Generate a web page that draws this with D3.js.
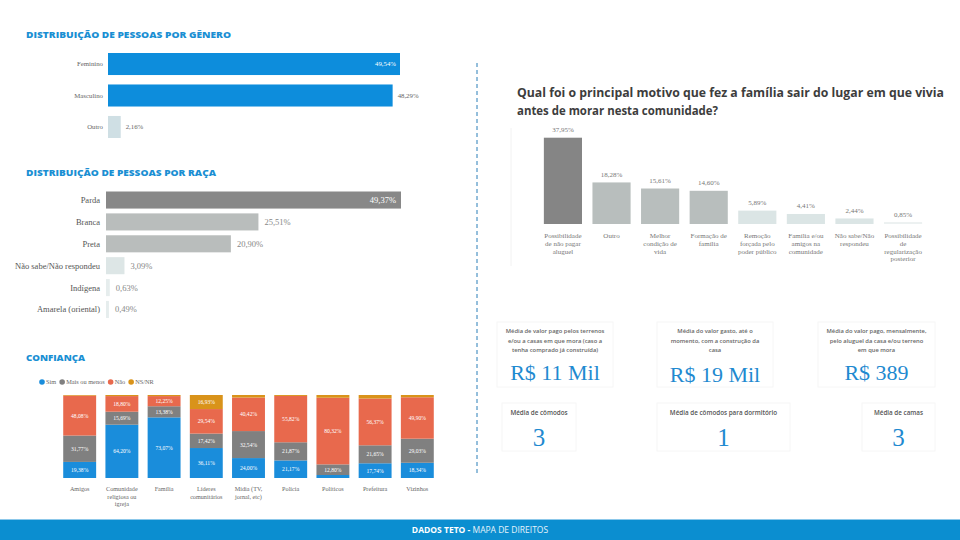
<!DOCTYPE html>
<html><head><meta charset="utf-8">
<script src="https://cdn.jsdelivr.net/npm/d3@7"></script>
<style>body{margin:0;background:#fff}svg{display:block}</style>
</head><body>
<svg id="c" width="960" height="540"></svg>
<script>
// ---------- DATA ----------
const genderCats = ["Feminino", "Masculino", "Outro"];
const genderVals = [49.54, 48.29, 2.16];

const raceCats = ["Parda", "Branca", "Preta", "Não sabe/Não respondeu", "Indígena", "Amarela (oriental)"];
const raceVals = [49.37, 25.51, 20.90, 3.09, 0.63, 0.49];

const trustCats = ["Amigos", "Comunidade religiosa ou igreja", "Família", "Líderes comunitários", "Mídia (TV, jornal, etc)", "Polícia", "Políticos", "Prefeitura", "Vizinhos"];
const trustSeries = ["Sim", "Mais ou menos", "Não", "NS/NR"];
const trustSim   = [19.38, 64.20, 73.07, 36.11, 24.00, 21.17, 3.60, 17.74, 18.34];
const trustMais  = [31.77, 15.69, 13.38, 17.42, 32.54, 21.87, 12.80, 21.65, 29.03];
const trustNao   = [48.08, 18.80, 12.25, 29.54, 40.42, 55.82, 80.32, 56.37, 49.90];
const trustNsnr  = [0.77, 1.31, 1.30, 16.93, 3.04, 1.14, 3.28, 4.24, 2.73];

const motiveTitle = ["Qual foi o principal motivo que fez a família sair do lugar em que vivia", "antes de morar nesta comunidade?"];
const motiveCats = ["Possibilidade de não pagar aluguel", "Outro", "Melhor condição de vida", "Formação de família", "Remoção forçada pelo poder público", "Família e/ou amigos na comunidade", "Não sabe/Não respondeu", "Possibilidade de regularização posterior"];
const motiveVals = [37.95, 18.28, 15.61, 14.60, 5.89, 4.41, 2.44, 0.85];

const kpiTitles = [
  ["Média de valor pago pelos terrenos", "e/ou a casas em que mora (caso a", "tenha comprado já construída)"],
  ["Média do valor gasto, até o", "momento, com a construção da", "casa"],
  ["Média do valor pago, mensalmente,", "pelo aluguel da casa e/ou terreno", "em que mora"]
];
const kpiValues = ["R$ 11 Mil", "R$ 19 Mil", "R$ 389"];
const kpi2Titles = ["Média de cômodos", "Média de cômodos para dormitório", "Média de camas"];
const kpi2Values = ["3", "1", "3"];

// ---------- HELPERS ----------
const svg = d3.select("#c");
const loc = d3.formatLocale({decimal: ",", thousands: ".", grouping: [3], currency: ["R$", ""]});
const pct = v => loc.format(".2f")(v) + "%";
const SERIF = "'Liberation Serif', 'DejaVu Serif', serif";
const SANS = "'Open Sans', 'Noto Sans', sans-serif";
const BLUE_T = "#1a8fd3";

function sectionTitle(x, y, txt, len) {
  svg.append("text").attr("x", x).attr("y", y).text(txt)
    .attr("font-family", SANS).attr("font-weight", 800).attr("font-size", 9)
    .attr("fill", BLUE_T).attr("textLength", len).attr("lengthAdjust", "spacingAndGlyphs");
}

function wrapLines(text, maxW, fontSize) {
  const tmp = svg.append("text").attr("font-family", SERIF).attr("font-size", fontSize);
  const words = text.split(" ");
  const lines = [];
  let cur = "";
  words.forEach(w => {
    const test = cur ? cur + " " + w : w;
    tmp.text(test);
    if (tmp.node().getComputedTextLength() > maxW && cur) { lines.push(cur); cur = w; }
    else cur = test;
  });
  if (cur) lines.push(cur);
  tmp.remove();
  return lines;
}

// ---------- GENDER ----------
sectionTitle(26, 38, "DISTRIBUIÇÃO DE PESSOAS POR GÊNERO", 205);
{
  const x = d3.scaleLinear().domain([0, d3.max(genderVals)]).range([108, 400]);
  const y = d3.scaleBand().domain(genderCats).range([53, 138]).paddingInner(0.3);
  const col = ["#0d8ddc", "#0d8ddc", "#cfdfe4"];
  const g = svg.append("g");
  g.selectAll("rect").data(genderVals).join("rect")
    .attr("x", x(0)).attr("y", (d, i) => y(genderCats[i]))
    .attr("width", d => x(d) - x(0)).attr("height", y.bandwidth())
    .attr("fill", (d, i) => col[i]);
  g.selectAll("text.cat").data(genderCats).join("text").attr("class", "cat")
    .attr("x", 103).attr("y", d => y(d) + y.bandwidth() / 2 + 2.3)
    .attr("text-anchor", "end").attr("font-family", SERIF).attr("font-size", 6.8).attr("fill", "#666").text(d => d);
  g.selectAll("text.val").data(genderVals).join("text").attr("class", "val")
    .attr("x", (d, i) => i === 0 ? x(d) - 4 : x(d) + 5)
    .attr("y", (d, i) => y(genderCats[i]) + y.bandwidth() / 2 + 2.3)
    .attr("text-anchor", (d, i) => i === 0 ? "end" : "start")
    .attr("font-family", SERIF).attr("font-size", 6.8)
    .attr("fill", (d, i) => i === 0 ? "#fff" : "#666").text(d => pct(d));
}

// ---------- RACE ----------
sectionTitle(26, 176, "DISTRIBUIÇÃO DE PESSOAS POR RAÇA", 190);
{
  const x = d3.scaleLinear().domain([0, d3.max(raceVals)]).range([106, 401]);
  const y = d3.scaleBand().domain(raceCats).range([191.5, 318]).paddingInner(0.22);
  const col = ["#888888", "#b9bdbc", "#b9bdbc", "#dde6e6", "#e6eded", "#e6eded"];
  const g = svg.append("g");
  g.selectAll("rect").data(raceVals).join("rect")
    .attr("x", x(0)).attr("y", (d, i) => y(raceCats[i]))
    .attr("width", d => Math.max(2, x(d) - x(0))).attr("height", y.bandwidth())
    .attr("fill", (d, i) => col[i]);
  g.selectAll("text.cat").data(raceCats).join("text").attr("class", "cat")
    .attr("x", 100).attr("y", d => y(d) + y.bandwidth() / 2 + 3)
    .attr("text-anchor", "end").attr("font-family", SERIF).attr("font-size", 8.5).attr("fill", "#555").text(d => d);
  g.selectAll("text.val").data(raceVals).join("text").attr("class", "val")
    .attr("x", (d, i) => i === 0 ? x(d) - 5 : Math.max(x(d), x(0) + 2) + 6)
    .attr("y", (d, i) => y(raceCats[i]) + y.bandwidth() / 2 + 3)
    .attr("text-anchor", (d, i) => i === 0 ? "end" : "start")
    .attr("font-family", SERIF).attr("font-size", 8.5)
    .attr("fill", (d, i) => i === 0 ? "#fff" : "#888").text(d => pct(d));
}

// ---------- CONFIANÇA ----------
sectionTitle(26, 361, "CONFIANÇA", 59);
{
  const colors = ["#1a8ddb", "#808080", "#e8694d", "#d9931a"];
  const rows = trustCats.map((c, i) => ({cat: c, "Sim": trustSim[i], "Mais ou menos": trustMais[i], "Não": trustNao[i], "NS/NR": trustNsnr[i]}));
  const stack = d3.stack().keys(trustSeries)(rows);
  const x = d3.scaleBand().domain(trustCats).range([59, 438]).paddingInner(0.22).paddingOuter(0.1);
  const y = d3.scaleLinear().domain([0, 100]).range([478, 395]);
  const g = svg.append("g");
  let lx = 42;
  const leg = svg.append("g");
  trustSeries.forEach((s, i) => {
    leg.append("circle").attr("cx", lx).attr("cy", 382).attr("r", 2.8).attr("fill", colors[i]);
    const t = leg.append("text").attr("x", lx + 4).attr("y", 384.2).text(s)
      .attr("font-family", SERIF).attr("font-size", 6.3).attr("fill", "#666");
    lx += 4 + t.node().getComputedTextLength() + 6;
  });
  stack.forEach((layer, k) => {
    g.selectAll(null).data(layer).join("rect")
      .attr("x", d => x(d.data.cat)).attr("width", x.bandwidth())
      .attr("y", d => y(d[1])).attr("height", d => y(d[0]) - y(d[1]))
      .attr("fill", colors[k]);
    g.selectAll(null).data(layer.filter(d => d[1] - d[0] >= 8)).join("text")
      .attr("x", d => x(d.data.cat) + x.bandwidth() / 2)
      .attr("y", d => (y(d[0]) + y(d[1])) / 2 + 2)
      .attr("text-anchor", "middle").attr("font-family", SERIF).attr("font-size", 5.6)
      .attr("fill", "#fff").text(d => pct(d[1] - d[0]));
  });
  trustCats.forEach(c => {
    const lines = wrapLines(c, 40, 6.2);
    const t = g.append("text").attr("text-anchor", "middle").attr("font-family", SERIF)
      .attr("font-size", 6.2).attr("fill", "#666");
    lines.forEach((l, j) => t.append("tspan").attr("x", x(c) + x.bandwidth() / 2).attr("y", 491 + j * 7.5).text(l));
  });
}

// ---------- DIVIDER ----------
svg.append("line").attr("x1", 477).attr("x2", 477).attr("y1", 63).attr("y2", 476)
  .attr("stroke", "#2a7fb8").attr("stroke-width", 1).attr("stroke-dasharray", "4,3");

// ---------- MOTIVE ----------
{
  svg.append("line").attr("x1", 511).attr("x2", 511).attr("y1", 128).attr("y2", 266).attr("stroke", "#f2f2f2");
  motiveTitle.forEach((t, i) => {
    svg.append("text").attr("x", 517).attr("y", 97 + i * 18).text(t)
      .attr("font-family", SANS).attr("font-weight", 700).attr("font-size", 12.5).attr("fill", "#3d3d3d")
      .attr("textLength", i === 0 ? 427 : 201).attr("lengthAdjust", "spacingAndGlyphs");
  });
  const x = d3.scaleBand().domain(motiveCats).range([539, 927]).paddingInner(0.215).paddingOuter(0.1);
  const y = d3.scaleLinear().domain([0, d3.max(motiveVals)]).range([224, 137.7]);
  const col = ["#858585", "#b8bebd", "#b8bebd", "#b8bebd", "#dbe5e5", "#dbe5e5", "#dbe5e5", "#ecf1f1"];
  const g = svg.append("g");
  g.selectAll("rect").data(motiveVals).join("rect")
    .attr("x", (d, i) => x(motiveCats[i])).attr("width", x.bandwidth())
    .attr("y", d => y(d)).attr("height", d => y(0) - y(d)).attr("fill", (d, i) => col[i]);
  g.selectAll("text.val").data(motiveVals).join("text").attr("class", "val")
    .attr("x", (d, i) => x(motiveCats[i]) + x.bandwidth() / 2).attr("y", d => y(d) - 5.5)
    .attr("text-anchor", "middle").attr("font-family", SERIF).attr("font-size", 7).attr("fill", "#777").text(d => pct(d));
  motiveCats.forEach(c => {
    const lines = wrapLines(c, 44, 7);
    const t = g.append("text").attr("text-anchor", "middle").attr("font-family", SERIF)
      .attr("font-size", 7).attr("fill", "#777");
    lines.forEach((l, j) => t.append("tspan").attr("x", x(c) + x.bandwidth() / 2).attr("y", 238 + j * 7.8).text(l));
  });
}

// ---------- KPI CARDS ----------
{
  const cardX = [497, 657, 818], cardW = [116, 116, 117], valY = [380, 382, 380];
  kpiValues.forEach((v, i) => {
    const g = svg.append("g");
    g.append("rect").attr("x", cardX[i]).attr("y", 322).attr("width", cardW[i]).attr("height", 65)
      .attr("fill", "#fff").attr("stroke", "#f6f6f6");
    const mid = cardX[i] + cardW[i] / 2;
    kpiTitles[i].forEach((l, j) => g.append("text").attr("x", mid).attr("y", 333 + j * 9.5).text(l)
      .attr("text-anchor", "middle").attr("font-family", SANS).attr("font-weight", 600)
      .attr("font-size", 5.8).attr("fill", "#666"));
    g.append("text").attr("x", mid).attr("y", valY[i]).text(v).attr("text-anchor", "middle")
      .attr("font-family", SERIF).attr("font-size", 22).attr("fill", "#1f8ad0");
  });
  const c2X = [502, 657, 862], c2W = [74, 133, 73];
  kpi2Values.forEach((v, i) => {
    const g = svg.append("g");
    g.append("rect").attr("x", c2X[i]).attr("y", 403).attr("width", c2W[i]).attr("height", 48)
      .attr("fill", "#fff").attr("stroke", "#f6f6f6");
    const mid = c2X[i] + c2W[i] / 2;
    g.append("text").attr("x", mid).attr("y", 415).text(kpi2Titles[i]).attr("text-anchor", "middle")
      .attr("font-family", SANS).attr("font-weight", 600).attr("font-size", 6.3).attr("fill", "#555");
    g.append("text").attr("x", mid).attr("y", 446).text(v).attr("text-anchor", "middle")
      .attr("font-family", SERIF).attr("font-size", 25).attr("fill", "#1f8ad0");
  });
}

// ---------- FOOTER ----------
svg.append("rect").attr("x", 0).attr("y", 520).attr("width", 960).attr("height", 20).attr("fill", "#0b8ed0");
svg.append("rect").attr("x", 0).attr("y", 519).attr("width", 960).attr("height", 1).attr("fill", "#8cc8ea");
{
  const t = svg.append("text").attr("x", 480).attr("y", 533).attr("text-anchor", "middle")
    .attr("font-family", SANS).attr("font-size", 8.5).attr("fill", "#fff");
  t.append("tspan").attr("font-weight", 700).text("DADOS TETO - ");
  t.append("tspan").attr("font-weight", 400).attr("fill", "#e6f3fb").text("MAPA DE DIREITOS");
}
</script>
</body></html>
